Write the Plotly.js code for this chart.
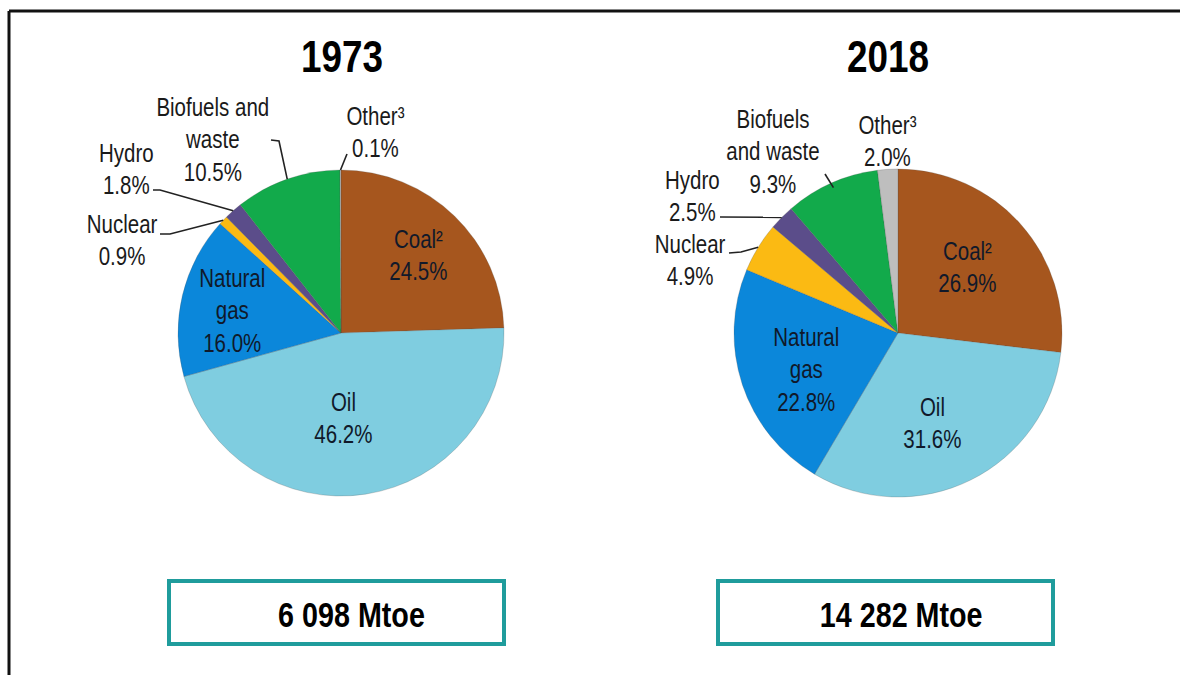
<!DOCTYPE html>
<html>
<head>
<meta charset="utf-8">
<script src="https://cdn.plot.ly/plotly-3.0.1.min.js"></script>
<style>html,body{margin:0;padding:0;background:#fff;}#chart{width:1180px;height:675px;}</style>
</head>
<body>
<div id="chart"></div>
<script>
// ---- data ----
const categories = ['Coal²', 'Oil', 'Natural gas', 'Nuclear', 'Hydro', 'Biofuels and waste', 'Other³'];
const years = ['1973', '2018'];
const share1973 = [24.5, 46.2, 16.0, 0.9, 1.8, 10.5, 0.1];
const share2018 = [26.9, 31.6, 22.8, 4.9, 2.5, 9.3, 2.0];
const totals = ['6 098 Mtoe', '14 282 Mtoe'];
// label names as broken over lines in each panel
const labelNames1973 = ['Coal²', 'Oil', 'Natural<br>gas', 'Nuclear', 'Hydro', 'Biofuels and<br>waste', 'Other³'];
const labelNames2018 = ['Coal²', 'Oil', 'Natural<br>gas', 'Nuclear', 'Hydro', 'Biofuels<br>and waste', 'Other³'];
const colors = ['#A6561E', '#7FCDE0', '#0B87DA', '#FBBA13', '#5B4D8A', '#12AA4B', '#BEBEBE'];

// ---- layout geometry (pixels) ----
const W = 1180, H = 675;
const FONT = 'Liberation Sans Narrow, Arial Narrow, Liberation Sans, Arial, sans-serif';
const NARROW = 0.82; // horizontal squeeze emulating a narrow face
const pies = [
  {cx: 341, cy: 333, r: 163, values: share1973, names: labelNames1973, title: {x: 342, y: 57},
   box: {x0: 169, x1: 504, y0: 581, y1: 644},
   labels: [[418, 255], [343, 418], [232, 311], [122, 240], [126, 170], [213, 140], [375, 132]],
   inside: [true, true, true, false, false, false, false],
   leaders: [null, null, null,
     {pts: [[160, 234], [170, 234]], f: 1.0},
     {pts: [[153, 190], [160, 190]], f: 1.0},
     {pts: [[271, 140], [279, 141]], f: 1.0},
     {pts: [[347, 154]], f: 1.0}]},
  {cx: 898, cy: 333, r: 164, values: share2018, names: labelNames2018, title: {x: 888, y: 57},
   box: {x0: 718, x1: 1053, y0: 581, y1: 644},
   labels: [[968, 267], [932, 423], [806, 369], [690, 260], [692, 197], [773, 152], [887, 141]],
   inside: [true, true, true, false, false, false, false],
   leaders: [null, null, null,
     {pts: [[729, 253], [741, 252]], f: 1.0},
     {pts: [[720, 217]], f: 1.0},
     {pts: [[825, 174]], f: 0.97},
     null]}
];

const px = x => x / W;
const py = y => 1 - y / H;

const traces = [];
const annotations = [];
const shapes = [];

pies.forEach((p, k) => {
  traces.push({
    type: 'pie',
    values: p.values,
    labels: categories,
    sort: false,
    direction: 'clockwise',
    rotation: 0,
    textinfo: 'none',
    hoverinfo: 'label+percent',
    marker: {colors: colors, line: {color: 'rgba(80,80,80,0.4)', width: 0.6}},
    domain: {x: [px(p.cx - p.r), px(p.cx + p.r)], y: [py(p.cy + p.r), py(p.cy - p.r)]},
    showlegend: false
  });
  // title
  annotations.push({text: '<b>' + years[k] + '</b>', x: px(p.title.x), y: py(p.title.y), xref: 'paper', yref: 'paper',
    xanchor: 'center', yanchor: 'middle', showarrow: false, font: {family: FONT, size: 45, color: '#000'}});
  // slice labels
  const total = p.values.reduce((a, b) => a + b, 0);
  let cum = 0;
  p.values.forEach((v, i) => {
    const mid = (cum + v / 2) / total * 2 * Math.PI;
    cum += v;
    const txt = p.names[i] + '<br>' + v.toFixed(1) + '%';
    annotations.push({text: txt, x: px(p.labels[i][0]), y: py(p.labels[i][1]), xref: 'paper', yref: 'paper',
      xanchor: 'center', yanchor: 'middle', showarrow: false,
      font: {family: FONT, size: 25, color: p.inside[i] ? '#10192a' : '#1a1a1a'}});
    const ld = p.leaders[i];
    if (ld) {
      const ex = p.cx + ld.f * p.r * Math.sin(mid);
      const ey = p.cy - ld.f * p.r * Math.cos(mid);
      const pts = ld.pts.concat([[ex, ey]]);
      const path = pts.map((q, j) => (j ? 'L' : 'M') + px(q[0]).toFixed(5) + ',' + py(q[1]).toFixed(5)).join(' ');
      shapes.push({type: 'path', xref: 'paper', yref: 'paper', path: path, line: {color: '#222', width: 1.6}});
    }
  });
  // total box
  shapes.push({type: 'rect', xref: 'paper', yref: 'paper', x0: px(p.box.x0), x1: px(p.box.x1), y0: py(p.box.y1), y1: py(p.box.y0),
    line: {color: '#1F9C9C', width: 4}, fillcolor: 'rgba(0,0,0,0)'});
  annotations.push({text: '<b>' + totals[k] + '</b>', x: px((p.box.x0 + p.box.x1) / 2 + 15), y: py(614), xref: 'paper', yref: 'paper',
    xanchor: 'center', yanchor: 'middle', showarrow: false, font: {family: FONT, size: 35, color: '#000'}});
});

// outer frame (top and left edges)
shapes.push({type: 'line', xref: 'paper', yref: 'paper', x0: px(9), x1: 1, y0: py(11), y1: py(11), line: {color: '#111', width: 3}});
shapes.push({type: 'line', xref: 'paper', yref: 'paper', x0: px(9), x1: px(9), y0: py(11), y1: 0, line: {color: '#111', width: 3}});

const layout = {
  width: W, height: H,
  margin: {l: 0, r: 0, t: 0, b: 0},
  paper_bgcolor: '#fff',
  plot_bgcolor: '#fff',
  showlegend: false,
  annotations: annotations,
  shapes: shapes,
  font: {family: FONT}
};

Plotly.newPlot('chart', traces, layout, {displayModeBar: false, staticPlot: true}).then(gd => {
  // squeeze annotation text horizontally around its own centre (narrow-font look)
  gd.querySelectorAll('text.annotation-text').forEach(t => {
    const bb = t.getBBox();
    const cx = bb.x + bb.width / 2;
    const prev = t.getAttribute('transform') || '';
    t.setAttribute('transform', prev + ' translate(' + cx + ',0) scale(' + NARROW + ',1) translate(' + (-cx) + ',0)');
  });
});
</script>
</body>
</html>
